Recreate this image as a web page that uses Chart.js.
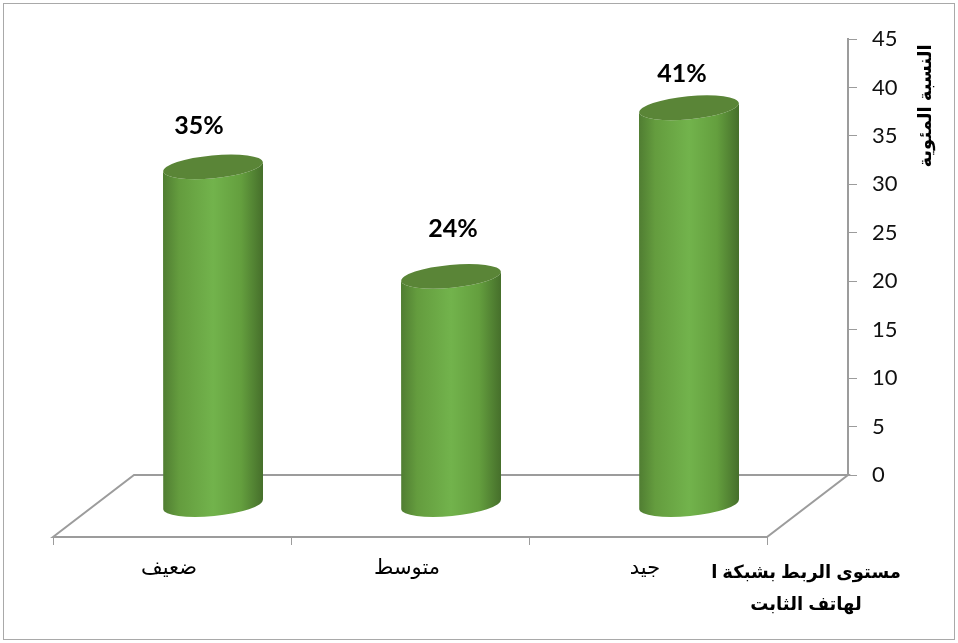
<!DOCTYPE html>
<html lang="ar"><head><meta charset="utf-8">
<style>html,body{margin:0;padding:0;background:#fff}canvas{display:block}#w{width:958px;height:643px}</style>
<script src="https://cdn.jsdelivr.net/npm/chart.js@4/dist/chart.umd.js"></script>
</head><body><div id="w"><canvas id="c"></canvas></div>
<script>
const categories = ["ضعيف", "متوسط", "جيد"];
const values = [34.9, 23.6, 41];
const yTicks = [0,5,10,15,20,25,30,35,40,45];
const yTitle = "النسبة المئوية";
const xTitleLines = ["مستوى الربط بشبكة ا", "لهاتف الثابت"];

const GRAY = '#9c9c9c';
const DEPTH_BAR = {x:-40, y:30};
const DEPTH_FLOOR = {x:-81, y:62};
const LABEL_SHIFT = [{x:-14,y:-41},{x:2,y:-47},{x:-7,y:-34}];
const ARABIC = '"Liberation Sans","DejaVu Sans",sans-serif';
const RY = 11.5, TILT = -0.095;

// cylinder look for each bar element, using the element's own scale-derived geometry
Chart.BarElement.prototype.draw = function(ctx){
  const {x,y,base,width} = this.getProps(['x','y','base','width'], true);
  const l = x-width/2, r = x+width/2;
  const g = ctx.createLinearGradient(l,0,r,0);
  g.addColorStop(0,'#507d32'); g.addColorStop(0.16,'#649c3e');
  g.addColorStop(0.5,'#72b34c'); g.addColorStop(0.78,'#649f3e'); g.addColorStop(1,'#466f2b');
  const dy = Math.sin(TILT)*width/2;
  ctx.save();
  ctx.fillStyle = g;
  ctx.beginPath();
  ctx.ellipse(x,y,width/2,RY,TILT,Math.PI,0,true);
  ctx.lineTo(r,y+dy);
  ctx.lineTo(r,base+dy);
  ctx.ellipse(x,base,width/2,RY,TILT,0,Math.PI,false);
  ctx.lineTo(l,y-dy);
  ctx.closePath();
  ctx.fill();
  ctx.fillStyle = '#5a8537';
  ctx.beginPath();
  ctx.ellipse(x,y,width/2,RY,TILT,0,Math.PI*2);
  ctx.fill();
  ctx.restore();
};

const sceneBefore = {
  id:'scene',
  beforeDraw(chart){
    const {ctx,width,height} = chart;
    ctx.save();
    ctx.fillStyle='#fff'; ctx.fillRect(0,0,width,height);
    ctx.strokeStyle='#a9a9a9'; ctx.lineWidth=1;
    ctx.strokeRect(3.5,3.5,width-7,height-7);
    ctx.restore();
  },
  beforeDatasetsDraw(chart){
    const {ctx,chartArea:a,scales:{x}} = chart;
    const fy = a.bottom+DEPTH_FLOOR.y, fl = a.left+DEPTH_FLOOR.x, fr = a.right+DEPTH_FLOOR.x;
    ctx.save();
    ctx.strokeStyle=GRAY; ctx.lineWidth=2;
    ctx.beginPath();
    ctx.moveTo(fl,fy); ctx.lineTo(a.left,a.bottom); ctx.lineTo(a.right,a.bottom); ctx.lineTo(fr,fy); ctx.closePath();
    ctx.stroke();
    ctx.lineWidth=1;
    const band = (a.right-a.left)/categories.length;
    ctx.beginPath();
    categories.concat(['']).forEach((_,i)=>{
      const px = Math.round(x.left+band*i+DEPTH_FLOOR.x)+0.5;
      ctx.moveTo(px,fy); ctx.lineTo(px,fy+8);
    });
    ctx.stroke();
    ctx.restore();
    ctx.save();
    ctx.translate(DEPTH_BAR.x,DEPTH_BAR.y);
  },
  afterDatasetsDraw(chart){
    const {ctx} = chart;
    ctx.restore();
    const meta = chart.getDatasetMeta(0);
    ctx.save();
    ctx.fillStyle='#000'; ctx.textAlign='center'; ctx.textBaseline='middle';
    ctx.font='bold 25px Lato, sans-serif';
    meta.data.forEach((el,i)=>{
      ctx.fillText(Math.round(values[i])+'%', el.x+DEPTH_BAR.x+LABEL_SHIFT[i].x, el.y+DEPTH_BAR.y+LABEL_SHIFT[i].y);
    });
    ctx.font='bold 18px '+ARABIC;
    ctx.direction='rtl';
    ctx.textAlign='center';
    ctx.fillText(xTitleLines[0],806,573);
    ctx.fillText(xTitleLines[1],806,605);
    ctx.translate(926,106);
    ctx.rotate(-Math.PI/2);
    ctx.fillText(yTitle,0,0);
    ctx.restore();
  }
};

new Chart(document.getElementById('c'),{
  type:'bar',
  data:{labels:categories,datasets:[{data:values,backgroundColor:'#70ad47',barThickness:100,clip:false}]},
  plugins:[sceneBefore],
  options:{
    responsive:true,maintainAspectRatio:false,animation:false,
    layout:{padding:{left:134,top:39,right:0,bottom:0}},
    plugins:{legend:{display:false},tooltip:{enabled:false},title:{display:false}},
    scales:{
      x:{
        grid:{display:false},border:{display:false},
        afterFit(s){s.height=168;},
        ticks:{color:'#000',font:{family:ARABIC,size:21},padding:73,labelOffset:-84,maxRotation:0,minRotation:0,autoSkip:false}
      },
      y:{
        position:'right',min:0,max:45,
        afterFit(s){s.width=110;},
        afterBuildTicks(s){s.ticks=yTicks.map(v=>({value:v}));},
        border:{color:GRAY,width:2},
        grid:{drawOnChartArea:false,drawTicks:true,tickLength:9,tickColor:GRAY,tickWidth:1},
        ticks:{color:'#111',font:{family:'Lato, sans-serif',size:22},padding:15}
      }
    }
  }
});
</script></body></html>
